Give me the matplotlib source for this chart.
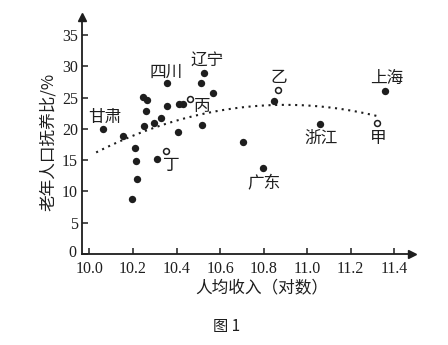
import matplotlib
matplotlib.use("Agg")
import matplotlib.pyplot as plt
import matplotlib.transforms as mtransforms
import numpy as np

# ---- data ----
income_filled = [10.061, 10.156, 10.21, 10.214, 10.218, 10.197, 10.248, 10.266,
                 10.262, 10.252, 10.298, 10.33, 10.309, 10.355, 10.357, 10.408,
                 10.413, 10.431, 10.526, 10.511, 10.569, 10.519, 10.705, 10.846,
                 11.356, 11.06, 10.799]
ratio_filled = [20.0, 18.85, 17.0, 14.9, 12.0, 8.8, 25.1, 24.55,
                22.8, 20.5, 20.9, 21.7, 15.2, 27.3, 23.7, 19.55,
                24.0, 24.0, 28.9, 27.4, 25.7, 20.7, 17.9, 24.4,
                26.1, 20.8, 13.7]

hypo_names = ["甲", "乙", "丙", "丁"]
income_open = [11.322, 10.865, 10.461, 10.353]
ratio_open = [20.9, 26.3, 24.8, 16.5]

# province labels and their positions
label_names = ["甘肃", "四川", "辽宁", "上海", "浙江", "广东",
               "甲", "乙", "丙", "丁"]
label_x = [10.069, 10.352, 10.539, 11.365, 11.063, 10.802,
           11.326, 10.871, 10.52, 10.375]
label_y = [21.8, 29.0, 31.0, 28.05, 18.5, 11.3,
           18.5, 28.2, 23.6, 14.2]

# trend curve (quadratic): peak and curvature
trend_peak_x = 10.9
trend_peak_y = 23.85
trend_curv = -10.07
trend_range = (10.031, 11.33)

x_ticks = [10.0, 10.2, 10.4, 10.6, 10.8, 11.0, 11.2, 11.4]
y_ticks = [0, 5, 10, 15, 20, 25, 30, 35]

# ---- figure ----
plt.rcParams['font.family'] = ['Liberation Serif', 'Noto Sans CJK SC']
cjk = ['Noto Sans CJK SC', 'DejaVu Sans']
ink = '#1e1e1e'

fig = plt.figure(figsize=(4.48, 3.45), dpi=100)
ax = fig.add_axes([82/448, (345-254)/345, (411.7-82)/448, (254-17)/345])
ax.set_xlim(9.966, 11.48)
ax.set_ylim(0, 37.9)

for s in ['top', 'right']:
    ax.spines[s].set_visible(False)
for s in ['left', 'bottom']:
    ax.spines[s].set_linewidth(1.3)
    ax.spines[s].set_color(ink)

# arrows
ax.plot(1, 0, marker='>', color=ink, markersize=6, transform=ax.transAxes, clip_on=False)
ax.plot(0, 1, marker='^', color=ink, markersize=6, transform=ax.transAxes, clip_on=False)

ax.set_xticks(x_ticks)
ax.set_xticklabels([f"{v:.1f}" for v in x_ticks])
ax.set_yticks(y_ticks)
ax.set_yticklabels([str(v) for v in y_ticks])
ax.tick_params(direction='in', length=4, width=1.1, colors=ink, labelsize=11.5)
ax.tick_params(axis='x', pad=5)
ax.tick_params(axis='y', pad=3)

# lift the "0" label a bit so it clears the x tick labels
fig.canvas.draw()
lbl0 = ax.get_yticklabels()[0]
lbl0.set_transform(lbl0.get_transform() + mtransforms.ScaledTranslation(-1/100, 3/100, fig.dpi_scale_trans))

# trend curve
xs = np.linspace(trend_range[0], trend_range[1], 200)
ys = trend_curv * (xs - trend_peak_x) ** 2 + trend_peak_y
ax.plot(xs, ys, linestyle=(0, (1, 2.2)), color=ink, linewidth=1.5)

# points
ax.scatter(income_filled, ratio_filled, s=28, color=ink, zorder=3, linewidths=0)
ax.scatter(income_open, ratio_open, s=18, facecolor='white', edgecolor=ink,
           linewidths=1.1, zorder=3)

for n, x, y in zip(label_names, label_x, label_y):
    ax.text(x, y, n, family=cjk, fontsize=12, ha='center', va='center', color=ink)

fig.text(48/448, 1 - 142/345, "老年人口抚养比/%", family=cjk, fontsize=12,
         rotation=90, ha='center', va='center', color=ink)
fig.text(262/448, 1 - 288/345, "人均收入（对数）", family=cjk, fontsize=12,
         ha='center', va='center', color=ink)
fig.text(227/448, 1 - 327/345, "图 1", family=cjk, fontsize=11,
         ha='center', va='center', color=ink)

fig.savefig("out.png", dpi=100, facecolor='white')
